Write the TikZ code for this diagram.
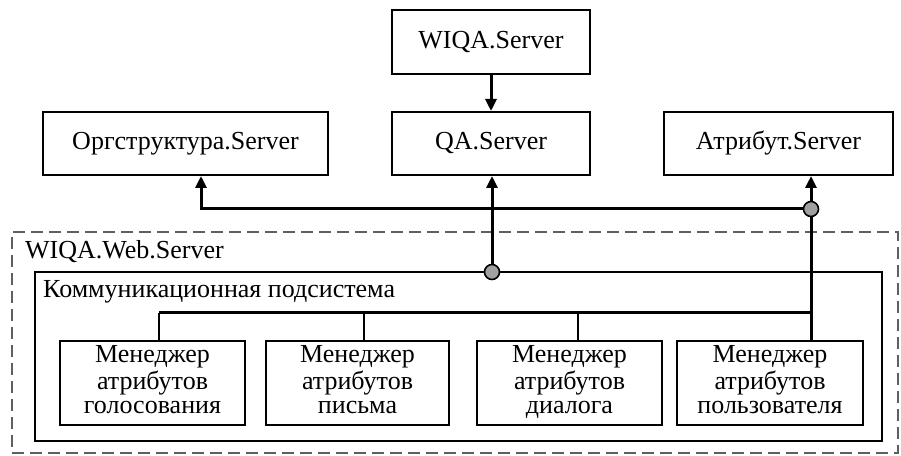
\documentclass[tikz,border=0pt]{standalone}
\usepackage{fontspec}
\setmainfont{Liberation Serif}
\usetikzlibrary{arrows.meta}
\definecolor{jgray}{RGB}{160,160,160}
\definecolor{dgray}{RGB}{95,95,95}

\begin{document}
\begin{tikzpicture}[
    x=1pt, y=1pt,
    >={Triangle[length=12pt,width=11pt]},
    srv/.style={rectangle, draw=black, line width=2pt, inner sep=0pt, font=\fontsize{26}{24}\selectfont},
    mgr/.style={srv, align=center, minimum width=185pt, minimum height=84pt},
    link/.style={draw=black, line width=3pt},
    jn/.style={circle, draw=black, line width=1.6pt, fill=jgray, minimum size=15pt, inner sep=0pt},
    tag/.style={anchor=west, inner sep=0pt, font=\fontsize{26}{24}\selectfont},
  ]
  \useasboundingbox (0,0) rectangle (901,455);

  %% ---------------- servers ----------------
  \node[srv, minimum width=198pt, minimum height=64pt] (wiqa) at (491,413) {WIQA.Server};
  \node[srv, minimum width=198pt, minimum height=63pt] (qa) at (491,311.5) {QA.Server};
  \node[srv, minimum width=285pt, minimum height=63pt] (org) at (185.5,311.5) {Оргструктура.Server};
  \node[srv, minimum width=229pt, minimum height=63pt] (attr) at (778.5,311.5) {Атрибут.Server};

  %% ---------------- web server ----------------
  \node[draw=dgray, dashed, dash pattern=on 12pt off 6pt, line width=2.4pt,
        minimum width=886pt, minimum height=221pt, inner sep=0pt] (web) at (455,112.5) {};
  \node[tag] (weblbl) at (25,203) {WIQA.Web.Server};
  \node[draw=black, line width=2pt, minimum width=847pt, minimum height=169pt, inner sep=0pt] (comm) at (458.5,98.5) {};
  \node[tag] (commlbl) at (43,163) {Коммуникационная подсистема};

  \node[mgr] (m1) at (152.5,72) {\strut Менеджер\\атрибутов\\голосования\strut};
  \node[mgr, minimum width=183pt] (m2) at (357.5,72) {\strut Менеджер\\атрибутов\\письма\strut};
  \node[mgr] (m3) at (569.5,72) {\strut Менеджер\\атрибутов\\диалога\strut};
  \node[mgr, minimum width=186pt] (m4) at (770,72) {\strut Менеджер\\атрибутов\\пользователя\strut};

  %% ---------------- links ----------------
  \coordinate (j1) at (811,246);
  \coordinate (j2) at (492,183);
  \coordinate (busL) at (159,142);
  \coordinate (busR) at (811,142);

  \draw[link, ->] (wiqa) -- (qa);
  \draw[link, ->] (j2) -- (qa.south -| j2);
  \draw[link, ->] (j1) -| ([xshift=15.5pt]org.south);
  \draw[link, ->] (j1 |- m4.north) -- (j1 |- attr.south);
  \draw[link] (busL) -- (busR);
  \draw[link, line width=2.2pt] (busL) -- (busL |- m1.north);
  \draw[link, line width=2.2pt] ([xshift=6.5pt]m2.north) -- ([xshift=6.5pt]m2.north |- busL);
  \draw[link, line width=2.2pt] ([xshift=8.5pt]m3.north) -- ([xshift=8.5pt]m3.north |- busL);

  \node[jn] (c1) at (j1) {};
  \node[jn] (c2) at (j2) {};

\end{tikzpicture}
\end{document}
